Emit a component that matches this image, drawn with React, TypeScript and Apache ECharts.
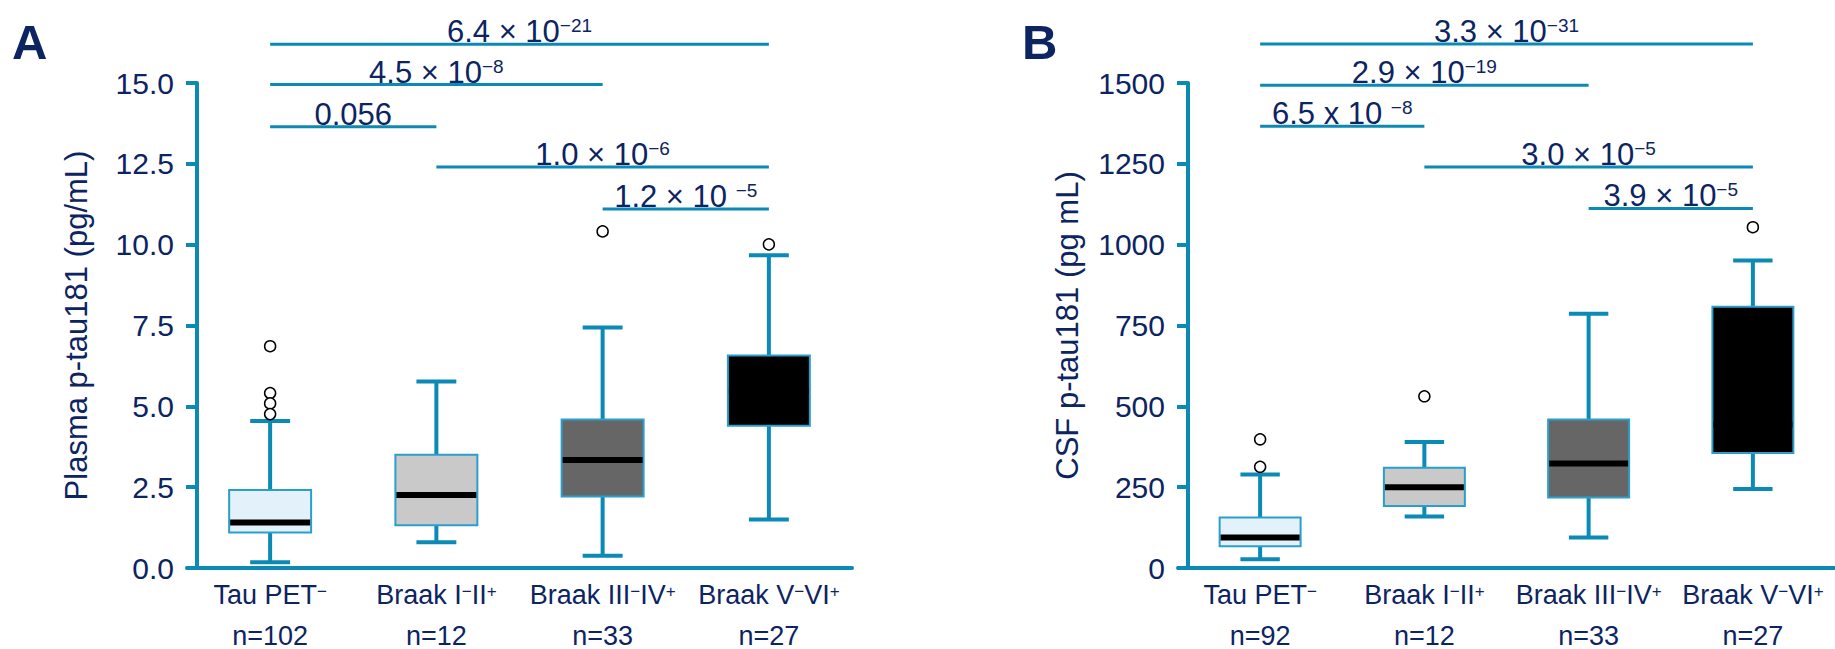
import React, { useEffect, useRef } from 'react';
import * as echarts from 'echarts';

// ---------- data ----------
const categories = ['Tau PET⁻', 'Braak I⁻II⁺', 'Braak III⁻IV⁺', 'Braak V⁻VI⁺'];
const plasmaN = [102, 12, 33, 27];
const csfN = [92, 12, 33, 27];

const plasmaMin = [0.18, 0.8, 0.38, 1.5];
const plasmaQ1 = [1.1, 1.32, 2.21, 4.4];
const plasmaMedian = [1.41, 2.26, 3.34, 5.48];
const plasmaQ3 = [2.41, 3.5, 4.59, 6.57];
const plasmaMax = [4.55, 5.77, 7.44, 9.67];
const plasmaOutliers = [[0, 6.86], [0, 5.41], [0, 5.09], [0, 4.76], [2, 10.41], [3, 10.01]];

const csfMin = [27, 159, 94, 244];
const csfQ1 = [67, 192, 218, 356];
const csfMedian = [94, 250, 323, 444];
const csfQ3 = [156, 310, 459, 808];
const csfMax = [289, 390, 786, 951];
const csfOutliers = [[0, 398], [0, 313], [1, 531], [3, 1054]];

const comparisonPairs = [[0, 3], [0, 2], [0, 1], [1, 3], [2, 3]];
const plasmaBarHeights = [16.2, 14.95, 13.65, 12.4, 11.1];
const plasmaPValues = ['6.4 × 10⁻²¹', '4.5 × 10⁻⁸', '0.056', '1.0 × 10⁻⁶', '1.2 × 10 ⁻⁵'];
const csfBarHeights = [1621, 1493, 1366, 1240, 1112];
const csfPValues = ['3.3 × 10⁻³¹', '2.9 × 10⁻¹⁹', '6.5 x 10 ⁻⁸', '3.0 × 10⁻⁵', '3.9 × 10⁻⁵'];

const plasmaTicks = { min: 0, max: 15, interval: 2.5 };
const csfTicks = { min: 0, max: 1500, interval: 250 };

// ---------- style ----------
const TEAL = '#0b8ab5';
const BOX_BORDER = '#2a9fcc';
const NAVY = '#0c2461';
const FONT = '"Liberation Sans", Arial, Helvetica, sans-serif';
const boxFills = ['#e3f2fa', '#c9c9c9', '#666666', '#000000'];

const SUP_MAP: Record<string, string> = {
  '⁻': '−', '⁺': '+', '⁰': '0', '¹': '1', '²': '2', '³': '3', '⁴': '4',
  '⁵': '5', '⁶': '6', '⁷': '7', '⁸': '8', '⁹': '9',
};

function toRich(s: string, base: string, sup: string): string {
  let out = '';
  let buf = '';
  let mode: string | null = null;
  const flush = () => {
    if (buf) out += `{${mode === 's' ? sup : base}|${buf}}`;
    buf = '';
  };
  for (const ch of s) {
    const m = SUP_MAP[ch] !== undefined ? 's' : 'b';
    if (m !== mode) {
      flush();
      mode = m;
    }
    buf += m === 's' ? SUP_MAP[ch] : ch;
  }
  flush();
  return out;
}

function boxRenderer(fills: string[]) {
  return (params: any, api: any) => {
    const i = api.value(0);
    const lo = api.coord([i, api.value(1)]);
    const q1 = api.coord([i, api.value(2)]);
    const md = api.coord([i, api.value(3)]);
    const q3 = api.coord([i, api.value(4)]);
    const hi = api.coord([i, api.value(5)]);
    const band = api.size([1, 0])[0];
    const bw = band * 0.493;
    const cw = band * 0.24;
    const x = lo[0];
    const whisker = { stroke: TEAL, lineWidth: 4 };
    return {
      type: 'group',
      children: [
        { type: 'line', shape: { x1: x, y1: hi[1], x2: x, y2: q3[1] }, style: whisker },
        { type: 'line', shape: { x1: x, y1: q1[1], x2: x, y2: lo[1] }, style: whisker },
        { type: 'line', shape: { x1: x - cw / 2, y1: hi[1], x2: x + cw / 2, y2: hi[1] }, style: whisker },
        { type: 'line', shape: { x1: x - cw / 2, y1: lo[1], x2: x + cw / 2, y2: lo[1] }, style: whisker },
        {
          type: 'rect',
          shape: { x: x - bw / 2, y: q3[1], width: bw, height: q1[1] - q3[1] },
          style: { fill: fills[i], stroke: BOX_BORDER, lineWidth: 2 },
        },
        {
          type: 'line',
          shape: { x1: x - bw / 2 + 1, y1: md[1], x2: x + bw / 2 - 1, y2: md[1] },
          style: { stroke: '#000000', lineWidth: 6 },
        },
      ],
    };
  };
}

function annotationRenderer(labels: string[]) {
  return (params: any, api: any) => {
    const h = api.value(2);
    const p1 = api.coord([api.value(0), h]);
    const p2 = api.coord([api.value(1), h]);
    return {
      type: 'group',
      children: [
        {
          type: 'line',
          shape: { x1: p1[0], y1: p1[1], x2: p2[0], y2: p2[1] },
          style: { stroke: TEAL, lineWidth: 3 },
        },
        {
          type: 'text',
          x: (p1[0] + p2[0]) / 2,
          y: p1[1] + 3,
          style: {
            text: toRich(labels[params.dataIndex], 'm', 's'),
            align: 'center',
            verticalAlign: 'bottom',
            fill: NAVY,
            fontFamily: FONT,
            fontSize: 31,
            rich: {
              m: { fontSize: 31, lineHeight: 31, fontFamily: FONT, fill: NAVY, color: NAVY },
              s: { fontSize: 19, lineHeight: 20, verticalAlign: 'top', fontFamily: FONT, fill: NAVY, color: NAVY },
            },
          },
        },
      ],
    };
  };
}

interface PanelDef {
  left: number;
  ticks: { min: number; max: number; interval: number };
  decimals: number;
  yName: string;
  n: number[];
  mins: number[];
  q1s: number[];
  meds: number[];
  q3s: number[];
  maxs: number[];
  outliers: number[][];
  heights: number[];
  pValues: string[];
}

function buildPanel(p: PanelDef, idx: number) {
  const grid = { left: p.left, top: 83, width: 665, height: 487, containLabel: false };
  const xAxis = {
    type: 'category',
    gridIndex: idx,
    data: categories,
    boundaryGap: true,
    axisLine: { show: true, lineStyle: { color: TEAL, width: 4 } },
    axisTick: { show: false },
    splitLine: { show: false },
    axisLabel: {
      interval: 0,
      margin: 6,
      formatter: (value: string, index: number) =>
        toRich(value, 'c', 'cs') + '\n{n|n=' + p.n[index] + '}',
      rich: {
        c: { fontSize: 27, lineHeight: 41, color: NAVY, fontFamily: FONT },
        cs: { fontSize: 17, lineHeight: 35, padding: [0, 0, 6, 0], color: NAVY, fontFamily: FONT },
        n: { fontSize: 27, lineHeight: 41, color: NAVY, fontFamily: FONT },
      },
    },
  };
  const yAxis = {
    type: 'value',
    gridIndex: idx,
    min: p.ticks.min,
    max: p.ticks.max,
    interval: p.ticks.interval,
    offset: -10,
    name: p.yName,
    nameLocation: 'middle',
    nameRotate: 90,
    nameGap: 105,
    nameTextStyle: { fontSize: 31, lineHeight: 31, color: NAVY, fontFamily: FONT },
    axisLine: { show: true, lineStyle: { color: TEAL, width: 4 } },
    axisTick: { show: true, length: 11, lineStyle: { color: TEAL, width: 4 } },
    splitLine: { show: false },
    axisLabel: {
      fontSize: 30,
      color: NAVY,
      fontFamily: FONT,
      margin: 23,
      padding: [11, 0, 0, 0],
      formatter: (v: number) => v.toFixed(p.decimals),
    },
  };
  const series = [
    {
      type: 'custom',
      xAxisIndex: idx,
      yAxisIndex: idx,
      renderItem: boxRenderer(boxFills),
      encode: { x: 0, y: [1, 2, 3, 4, 5] },
      data: categories.map((_, i) => [i, p.mins[i], p.q1s[i], p.meds[i], p.q3s[i], p.maxs[i]]),
      z: 2,
    },
    {
      type: 'scatter',
      xAxisIndex: idx,
      yAxisIndex: idx,
      symbol: 'circle',
      symbolSize: 11,
      itemStyle: { color: '#ffffff', borderColor: '#000000', borderWidth: 1.5, opacity: 1 },
      data: p.outliers,
      z: 3,
    },
    {
      type: 'custom',
      xAxisIndex: idx,
      yAxisIndex: idx,
      clip: false,
      renderItem: annotationRenderer(p.pValues),
      encode: { x: [0, 1], y: 2 },
      data: comparisonPairs.map((pr, k) => [pr[0], pr[1], p.heights[k]]),
      z: 4,
    },
  ];
  return { grid, xAxis, yAxis, series };
}

export default function App() {
  const ref = useRef<HTMLDivElement>(null);
  useEffect(() => {
    if (!ref.current) return;
    const chart = echarts.init(ref.current, undefined, { renderer: 'svg' });
    const a = buildPanel(
      {
        left: 187,
        ticks: plasmaTicks,
        decimals: 1,
        yName: 'Plasma p-tau181 (pg/mL)',
        n: plasmaN,
        mins: plasmaMin,
        q1s: plasmaQ1,
        meds: plasmaMedian,
        q3s: plasmaQ3,
        maxs: plasmaMax,
        outliers: plasmaOutliers,
        heights: plasmaBarHeights,
        pValues: plasmaPValues,
      },
      0
    );
    const b = buildPanel(
      {
        left: 1178,
        ticks: csfTicks,
        decimals: 0,
        yName: 'CSF p-tau181 (pg mL)',
        n: csfN,
        mins: csfMin,
        q1s: csfQ1,
        meds: csfMedian,
        q3s: csfQ3,
        maxs: csfMax,
        outliers: csfOutliers,
        heights: csfBarHeights,
        pValues: csfPValues,
      },
      1
    );
    chart.setOption({
      animation: false,
      backgroundColor: '#ffffff',
      textStyle: { fontFamily: FONT },
      grid: [a.grid, b.grid],
      xAxis: [a.xAxis, b.xAxis],
      yAxis: [a.yAxis, b.yAxis],
      series: [...a.series, ...b.series],
      graphic: [
        {
          type: 'text',
          x: 12,
          y: 17,
          style: { text: 'A', fontSize: 49, fontWeight: 'bold', fontFamily: FONT, fill: NAVY, verticalAlign: 'top' },
        },
        {
          type: 'text',
          x: 1022,
          y: 17,
          style: { text: 'B', fontSize: 49, fontWeight: 'bold', fontFamily: FONT, fill: NAVY, verticalAlign: 'top' },
        },
      ],
    });
    return () => chart.dispose();
  }, []);
  return (
    <div
      ref={ref}
      style={{ position: 'absolute', left: 0, top: 0, width: 1835, height: 649, background: '#ffffff' }}
    />
  );
}
